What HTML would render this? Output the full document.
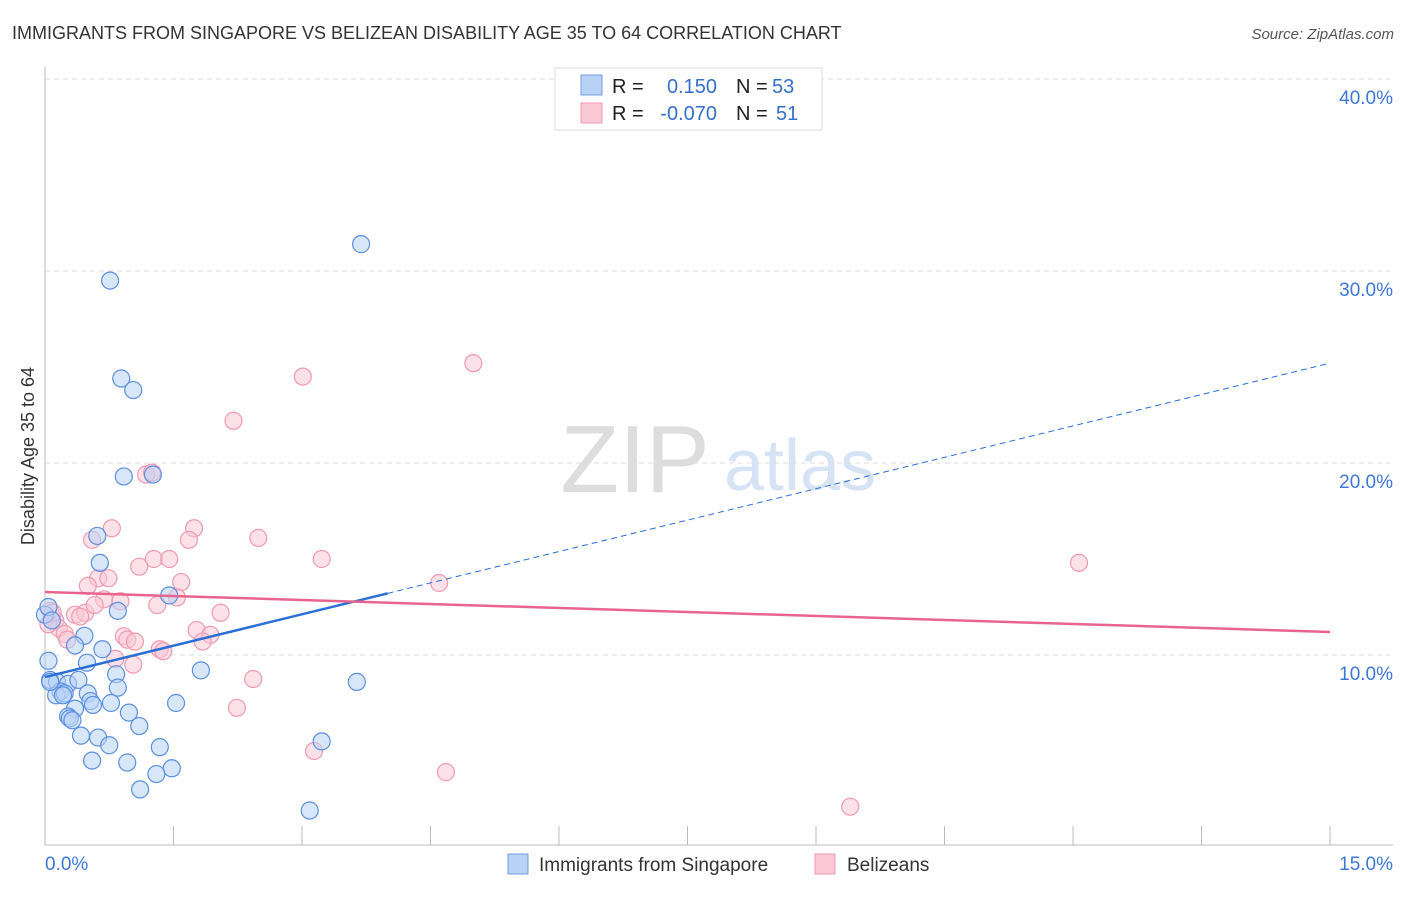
<!DOCTYPE html>
<html><head><meta charset="utf-8">
<style>
body{margin:0;background:#fff;font-family:"Liberation Sans",sans-serif;}
svg text{font-family:"Liberation Sans",sans-serif;}
</style></head>
<body>
<svg id="chart" width="1406" height="892" xmlns="http://www.w3.org/2000/svg">
<text x="12" y="39" font-size="18" fill="#333">IMMIGRANTS FROM SINGAPORE VS BELIZEAN DISABILITY AGE 35 TO 64 CORRELATION CHART</text>
<text x="1394" y="39" font-size="15" fill="#555" font-style="italic" text-anchor="end">Source: ZipAtlas.com</text>
<text x="34" y="456" font-size="18" fill="#333" text-anchor="middle" transform="rotate(-90 34 456)">Disability Age 35 to 64</text>
<text x="635" y="492" font-size="96" fill="#ddd" font-family="Liberation Serif" text-anchor="middle">ZIP</text>
<text x="800" y="490" font-size="72" fill="#d6e3f5" text-anchor="middle">atlas</text>
<g id="grid"></g>
<g id="axes"></g>
<g id="pinkPts"></g>
<g id="bluePts"></g>
<g id="lines"></g>
<g>
<rect x="555" y="68" width="267" height="62" fill="#fff" stroke="#ddd"/>
<rect x="581" y="75" width="21" height="20" fill="#b8d2f5" stroke="#6f9fe0"/>
<rect x="581" y="103" width="21" height="20" fill="#fbc8d6" stroke="#ef9ab2"/>
<text x="612" y="93" font-size="20" fill="#222">R =</text>
<text x="717" y="93" font-size="20" fill="#3370cc" text-anchor="end">0.150</text>
<text x="736" y="93" font-size="20" fill="#222">N =</text>
<text x="772" y="93" font-size="20" fill="#3370cc">53</text>
<text x="612" y="120" font-size="20" fill="#222">R =</text>
<text x="717" y="120" font-size="20" fill="#3370cc" text-anchor="end">-0.070</text>
<text x="736" y="120" font-size="20" fill="#222">N =</text>
<text x="776" y="120" font-size="20" fill="#3370cc">51</text>
</g>
<g>
<rect x="508" y="854" width="20" height="20" fill="#b8d2f5" stroke="#6f9fe0"/>
<text x="539" y="871" font-size="19" fill="#333">Immigrants from Singapore</text>
<rect x="815" y="854" width="20" height="20" fill="#fbc8d6" stroke="#ef9ab2"/>
<text x="847" y="871" font-size="19" fill="#333">Belizeans</text>
</g>
</svg>
<script>
const yTicks=[10,20,30,40];
const yTickLabels=["10.0%","20.0%","30.0%","40.0%"];
const xTicks=[0,1.5,3,4.5,6,7.5,9,10.5,12,13.5,15];
const blueX=[3.69,0.76,0.89,1.03,0.92,1.26,0.61,0.64,0.85,1.45,0.46,0.35,0.67,0.04,0.49,0.06,0.14,0.27,0.18,0.39,0.83,0.13,0.23,0.50,0.53,0.85,1.82,3.64,1.53,0.35,0.56,0.77,0.98,0.27,0.29,0.32,0.42,0.62,0.75,1.10,1.34,3.23,0.55,0.96,1.48,1.30,1.11,3.09,0.0,0.04,0.08,0.21,0.06];
const blueY=[31.4,29.5,24.4,23.8,19.3,19.4,16.2,14.8,12.3,13.1,11.0,10.5,10.3,9.7,9.6,8.7,8.6,8.5,8.1,8.7,9.0,7.9,8.0,8.0,7.6,8.3,9.2,8.6,7.5,7.2,7.4,7.5,7.0,6.8,6.7,6.6,5.8,5.7,5.3,6.3,5.2,5.5,4.5,4.4,4.1,3.8,3.0,1.9,12.1,12.5,11.8,7.9,8.6];
const pinkX=[5.0,3.01,2.2,1.18,1.25,0.78,1.74,2.49,0.55,1.68,1.27,1.45,3.23,12.07,1.1,0.62,0.74,1.59,0.5,4.6,0.69,1.54,1.31,0.88,2.05,0.06,0.35,0.47,0.12,0.16,0.23,0.41,1.77,0.92,1.93,0.96,1.05,1.34,1.38,1.84,0.82,1.03,2.43,2.24,3.14,4.68,9.40,0.04,0.09,0.26,0.58];
const pinkY=[25.2,24.5,22.2,19.4,19.5,16.6,16.6,16.1,16.0,16.0,15.0,15.0,15.0,14.8,14.6,14.0,14.0,13.8,13.6,13.75,12.9,13.0,12.6,12.8,12.2,12.3,12.1,12.2,11.8,11.4,11.1,12.0,11.3,10.98,11.05,10.8,10.7,10.3,10.2,10.7,9.8,9.5,8.75,7.25,5.0,3.9,2.1,11.6,12.2,10.8,12.6];
const blueLine=[8.85,25.2];
const pinkLine=[13.28,11.2];
const X=v=>45+v/15*1285, Y=v=>847-v*19.2;
const NS="http://www.w3.org/2000/svg";
function mk(p,t,a){const e=document.createElementNS(NS,t);for(const k in a)e.setAttribute(k,a[k]);p.appendChild(e);return e;}
const grid=document.getElementById('grid'),axes=document.getElementById('axes');
yTicks.forEach((t,i)=>{
 const l=mk(grid,'line',{x1:45,x2:1393,y1:Y(t),y2:Y(t),stroke:'#ddd','stroke-dasharray':'5,4'});
 
 
 const tx=mk(axes,'text',{x:1393,y:Y(t)+25,'font-size':19,fill:'#3d78d8','text-anchor':'end'});
 tx.textContent=yTickLabels[i];
 
 
});
let a=mk(axes,'line',{x1:45,x2:45,y1:67,y2:845,stroke:'#bbb'});


a=mk(axes,'line',{x1:45,x2:1393,y1:845,y2:845,stroke:'#bbb'});


xTicks.forEach(t=>{
 const l=mk(axes,'line',{x1:X(t),x2:X(t),y1:826,y2:845,stroke:'#bbb'});
 
 
});
let xl=mk(axes,'text',{x:45,y:870,'font-size':19,fill:'#3d78d8'});xl.textContent='0.0%';


xl=mk(axes,'text',{x:1393,y:870,'font-size':19,fill:'#3d78d8','text-anchor':'end'});xl.textContent='15.0%';


function pts(g,xs,ys,fill,stroke,name){
 xs.forEach((x,i)=>{
  const c=mk(g,'circle',{cx:X(x),cy:Y(ys[i]),r:8.5,fill:fill,'fill-opacity':0.55,stroke:stroke,'stroke-width':1.2});
  
  
 });
}
pts(document.getElementById('pinkPts'),pinkX,pinkY,'#fbc8d6','#ef9ab2','belizean-point');
pts(document.getElementById('bluePts'),blueX,blueY,'#b8d2f5','#5b8fe0','singapore-point');
const lg=document.getElementById('lines');
const bx=4.0, byv=blueLine[0]+(blueLine[1]-blueLine[0])*bx/15;
let L=mk(lg,'line',{x1:X(0),y1:Y(blueLine[0]),x2:X(bx),y2:Y(byv),stroke:'#2a6fd6','stroke-width':2.5});


L=mk(lg,'line',{x1:X(bx),y1:Y(byv),x2:X(15),y2:Y(blueLine[1]),stroke:'#2a6fd6','stroke-width':1,'stroke-dasharray':'6,4'});


L=mk(lg,'line',{x1:X(0),y1:Y(pinkLine[0]),x2:X(15),y2:Y(pinkLine[1]),stroke:'#e8648e','stroke-width':2.5});


</script>
</body></html>
